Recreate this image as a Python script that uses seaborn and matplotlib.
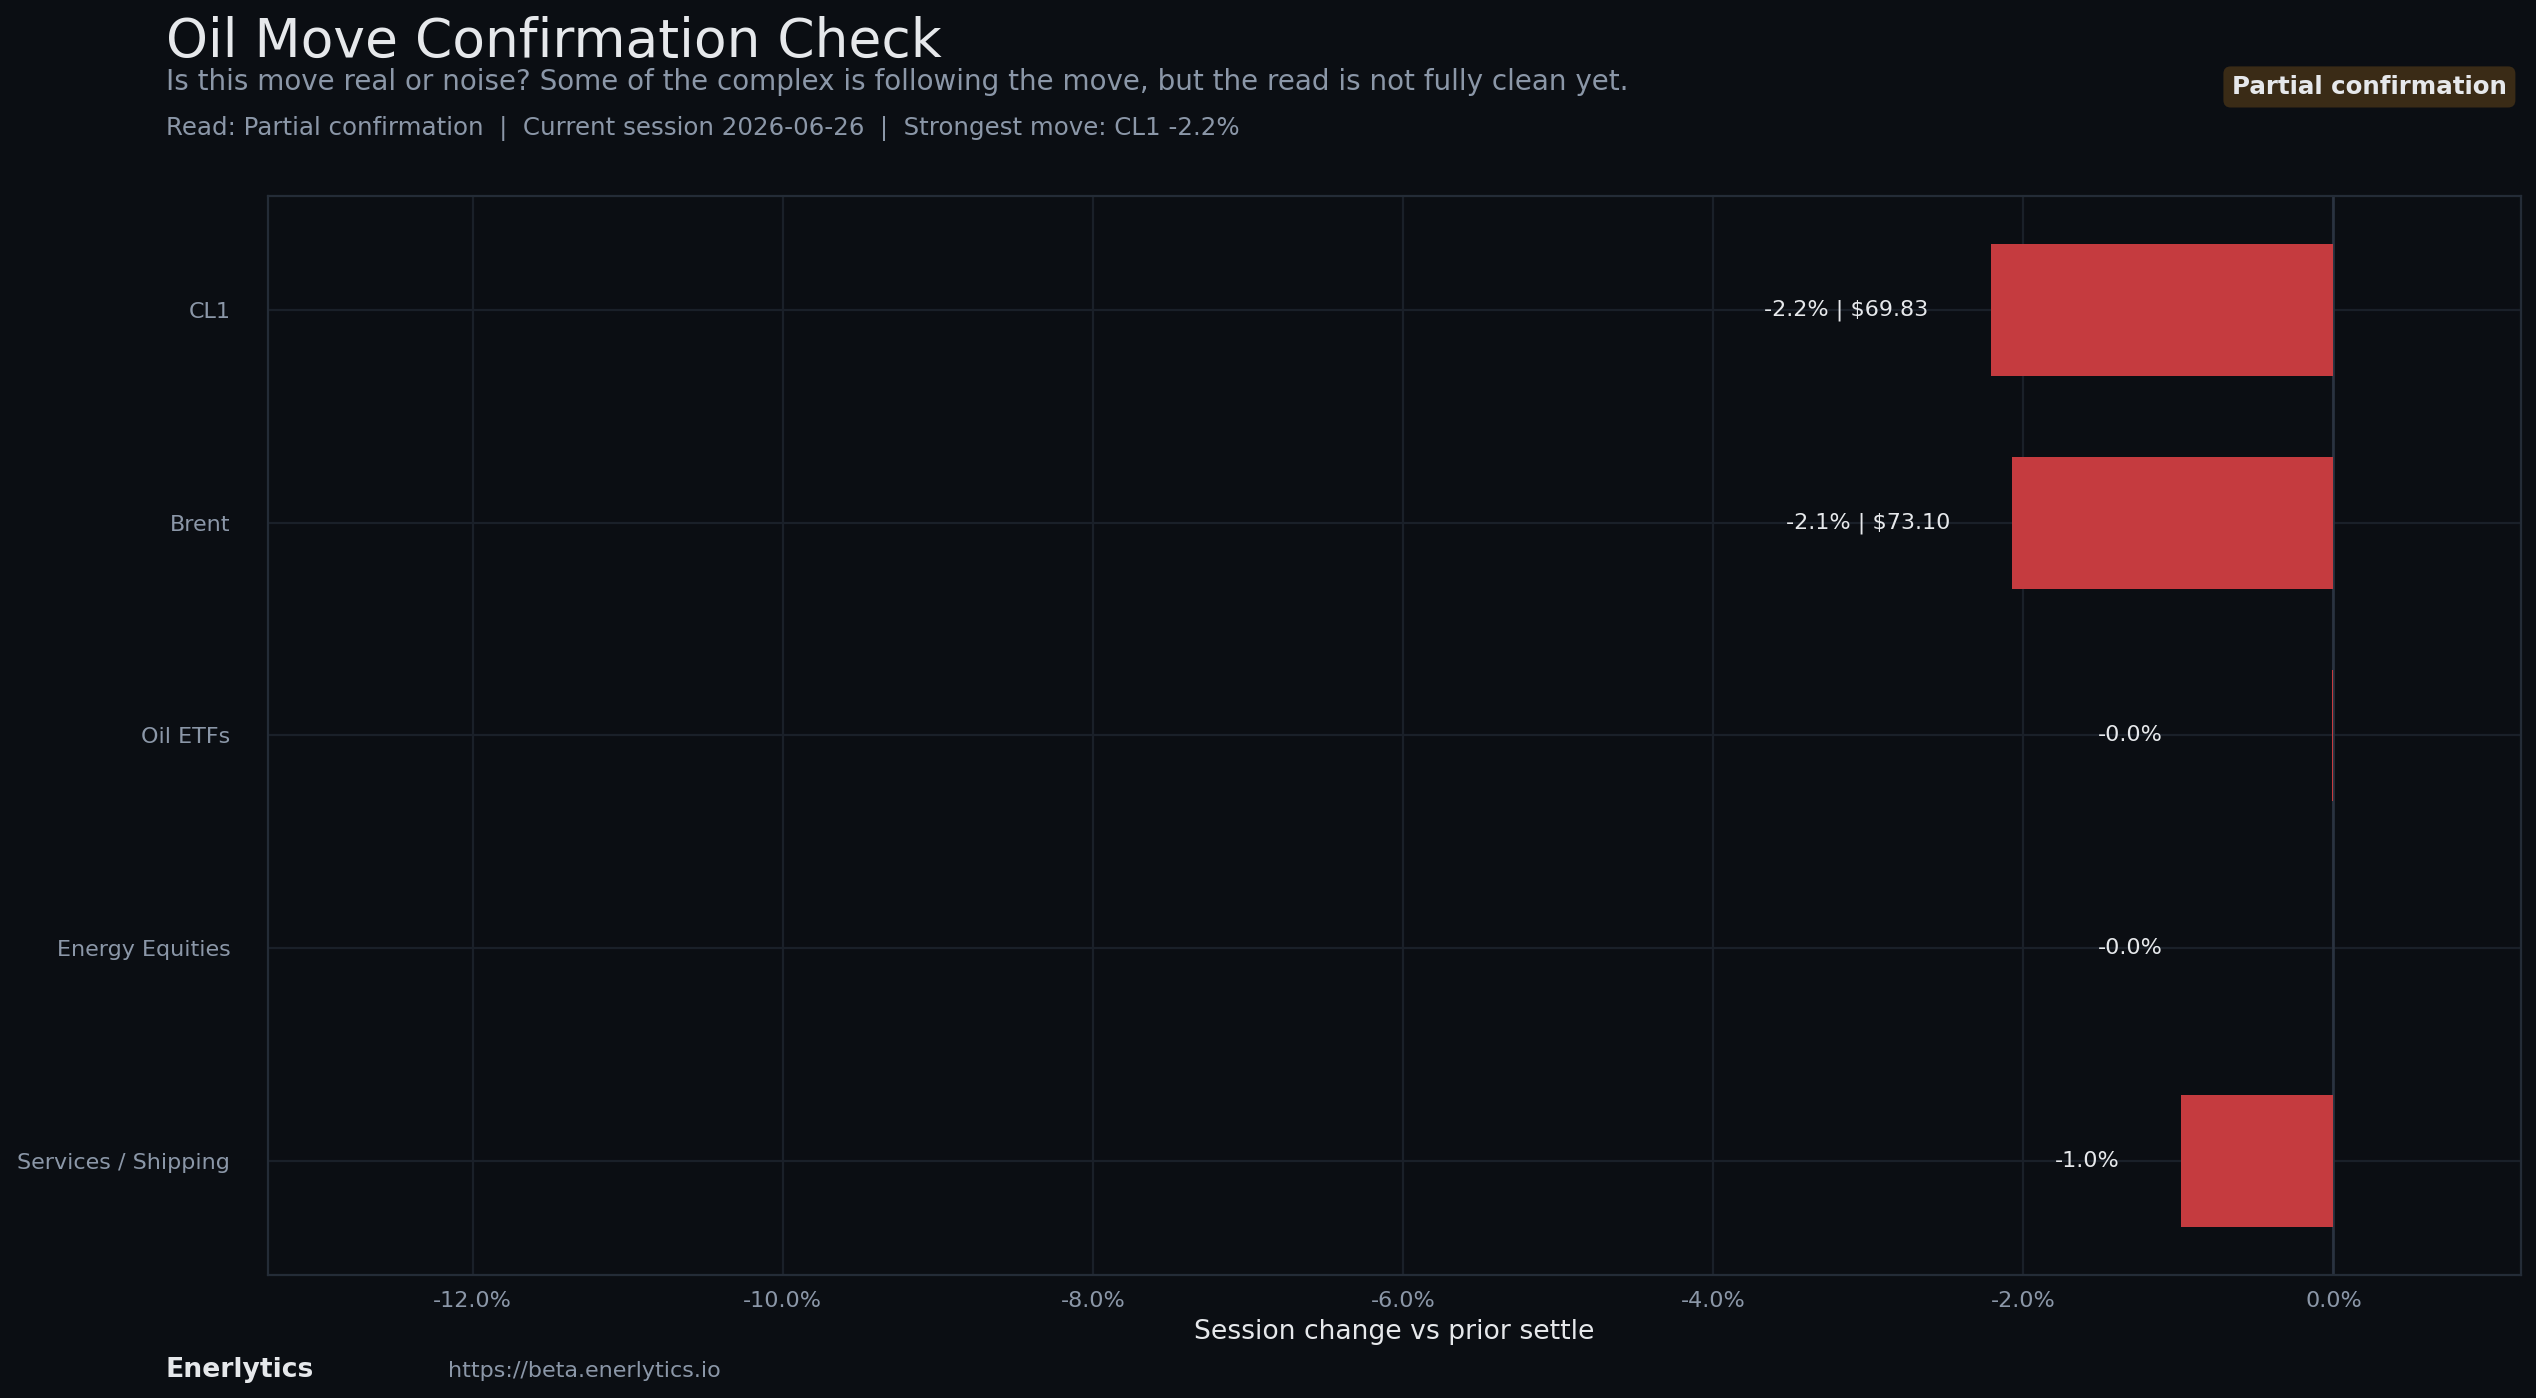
import matplotlib
matplotlib.use("Agg")
import matplotlib.pyplot as plt
import seaborn as sns
from matplotlib.ticker import FuncFormatter

# --- data ---
CATEGORIES = ['CL1', 'Brent', 'Oil ETFs', 'Energy Equities', 'Services / Shipping']
CHANGE_PCT = [-2.21, -2.07, -0.012, -0.002, -0.98]
BAR_LABELS = ['-2.2% | $69.83', '-2.1% | $73.10', '-0.0%', '-0.0%', '-1.0%']
X_TICKS = [-12, -10, -8, -6, -4, -2, 0]

TITLE = 'Oil Move Confirmation Check'
SUBTITLE = 'Is this move real or noise? Some of the complex is following the move, but the read is not fully clean yet.'
META = 'Read: Partial confirmation  |  Current session 2026-06-26  |  Strongest move: CL1 -2.2%'
BADGE = 'Partial confirmation'
BRAND = 'Enerlytics'
URL = 'https://beta.enerlytics.io'

# --- colours ---
BG = '#0b0e13'
TEXT = '#e6e8eb'
MUTED = '#8b97a8'
GRID = '#1a2029'
SPINE = '#242c37'
BAR = '#c53b3f'
BADGE_BG = '#3a2b16'

sns.set_theme(style='dark')
plt.rcParams.update({
    'figure.facecolor': BG,
    'axes.facecolor': BG,
    'savefig.facecolor': BG,
    'text.color': TEXT,
    'axes.labelcolor': TEXT,
    'xtick.color': MUTED,
    'ytick.color': MUTED,
    'axes.edgecolor': SPINE,
})
plt.rcParams['font.family'] = ['DejaVu Sans']

fig = plt.figure(figsize=(2536 / 160, 1398 / 160), dpi=160)
ax = fig.add_axes([0.1057, 0.0880, 0.8884, 0.7718])

sns.barplot(x=CHANGE_PCT, y=CATEGORIES, orient='h', color=BAR, saturation=1,
            width=0.62, linewidth=0, ax=ax, zorder=2)

ax.set_xlim(-13.32, 1.21)
ax.set_ylim(4.536, -0.536)
ax.set_xticks(X_TICKS)
ax.xaxis.set_major_formatter(FuncFormatter(lambda v, p: f'{v:.1f}%'))
ax.grid(True, color=GRID, linewidth=1.0)
ax.set_axisbelow(True)
ax.axvline(0, color='#2a3340', linewidth=1.2, zorder=1.5)

for s in ax.spines.values():
    s.set_visible(True)
    s.set_color(SPINE)
    s.set_linewidth(1.0)

ax.tick_params(axis='x', labelsize=10, length=3.5, width=0.8, colors=MUTED)
ax.tick_params(axis='y', labelsize=10, length=3.5, width=0.8, pad=13.5, colors=MUTED)
ax.set_ylabel('')
ax.set_xlabel('Session change vs prior settle', fontsize=12, color=TEXT, labelpad=4)

# value labels
for i, (v, lab) in enumerate(zip(CHANGE_PCT, BAR_LABELS)):
    ax.text(min(v - 0.4, -1.1), i, lab, ha='right', va='center',
            fontsize=10, color=TEXT)

# header
fig.text(0.0653, 0.9595, TITLE, fontsize=24, color=TEXT, va='baseline')
fig.text(0.0653, 0.9356, SUBTITLE, fontsize=12.5, color=MUTED, va='baseline')
fig.text(0.0653, 0.9034, META, fontsize=11, color=MUTED, va='baseline')
fig.text(0.9885, 0.9378, BADGE, fontsize=11, fontweight='bold', color=TEXT,
         ha='right', va='center',
         bbox=dict(boxstyle='round,pad=0.35,rounding_size=0.3', fc=BADGE_BG, ec='none'))

# footer
fig.text(0.0653, 0.015, BRAND, fontsize=12, fontweight='bold', color=TEXT, va='baseline')
fig.text(0.1765, 0.015, URL, fontsize=10, color=MUTED, va='baseline')

fig.savefig('out.png', dpi=160)
